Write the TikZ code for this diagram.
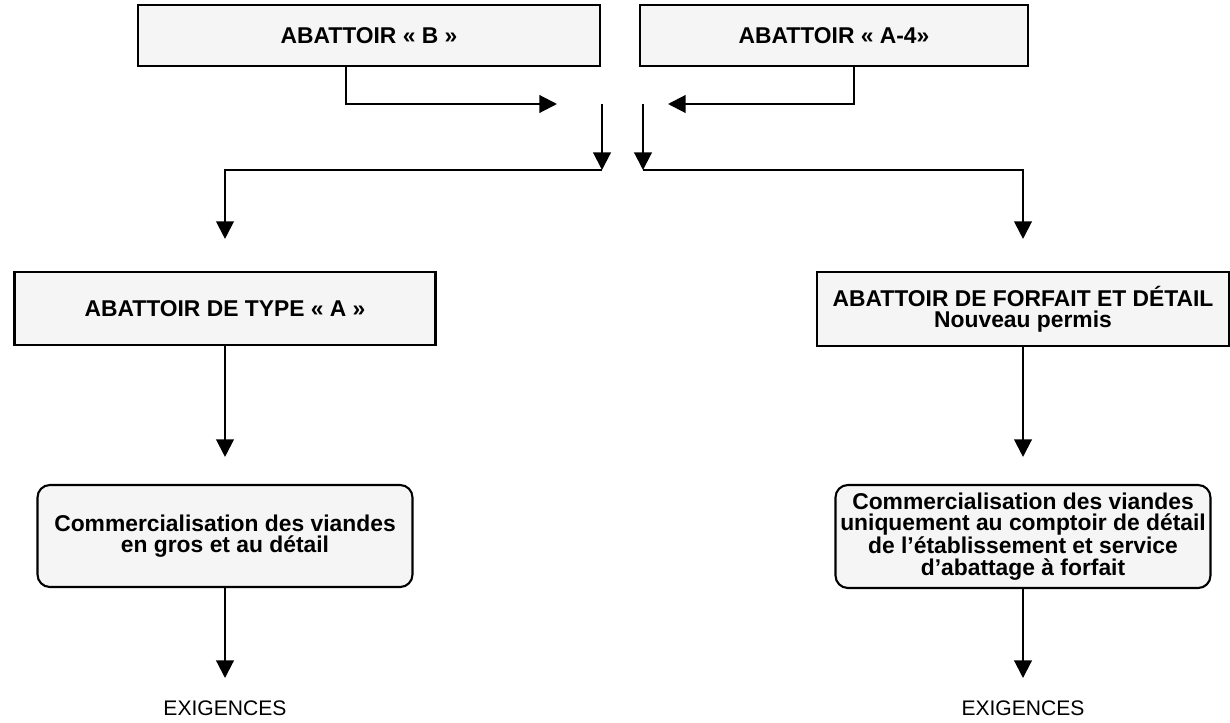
\documentclass[tikz,border=0pt]{standalone}
\usepackage{fontspec}
\setmainfont{Liberation Sans}
\usepackage{tikz}
\usetikzlibrary{arrows.meta, positioning}

\begin{document}
\begin{tikzpicture}[x=0.02cm, y=-0.02cm, line width=1.2pt,
    box/.style={rectangle, draw, fill=black!4, align=center, inner sep=2pt,
        font=\fontsize{13}{12}\selectfont\bfseries},
    roundbox/.style={box, rounded corners=7pt},
    exig/.style={inner sep=0pt, anchor=north, font=\fontsize{12}{14}\selectfont},
    arr/.style={-{Triangle[width=10pt,length=10pt]}}]
    \useasboundingbox (0,0) rectangle (1230,723);

    \node (AbattoirB) [box, minimum width=9.24cm, minimum height=1.22cm] at (369,35.5) {ABATTOIR « B »};
    \node (AbattoirA4) [box, minimum width=7.76cm, minimum height=1.22cm] at (834,35.5) {ABATTOIR « A-4»};

    \node (TypeA) [box, minimum width=8.42cm, minimum height=1.46cm] at (225,308.5) {ABATTOIR DE TYPE « A »};
    \node (Forfait) [box, minimum width=8.24cm, minimum height=1.48cm] at (1023,309) {ABATTOIR DE FORFAIT ET DÉTAIL\\Nouveau permis};

    \node (VenteGros) [roundbox, minimum width=7.5cm, minimum height=2.04cm] at (225,536) {Commercialisation des viandes\\en gros et au détail};
    \node (VenteDetail) [roundbox, minimum width=7.5cm, minimum height=2.06cm] at (1023,536.5) {Commercialisation des viandes\\uniquement au comptoir de détail\\de l’établissement et service\\d’abattage à forfait};

    \node (ExigGros) [exig] at (225,700) {EXIGENCES};
    \node (ExigDetail) [exig] at (1023,700) {EXIGENCES};

    % jonction des deux abattoirs
    \coordinate (TipB) at (557,104);
    \coordinate (TipA4) at (668,104);
    \coordinate (DropL) at (602,104);
    \coordinate (ForkL) at (602,170);
    \coordinate (DropR) at (643,104);
    \coordinate (ForkR) at (643,170);

    \draw[arr] ([xshift=-0.46cm]AbattoirB.south) |- (TipB);
    \draw[arr] ([xshift=0.4cm]AbattoirA4.south) |- (TipA4);
    \draw[arr] (DropL) -- (ForkL);
    \draw[arr] (DropR) -- (ForkR);

    \draw[arr, shorten >=0.64cm] (ForkL) -| (TypeA.north);
    \draw[arr, shorten >=0.64cm] (ForkR) -| (Forfait.north);

    \draw[arr, shorten >=0.54cm] (TypeA.south) -- (VenteGros.north);
    \draw[arr, shorten >=0.54cm] (Forfait.south) -- (VenteDetail.north);
    \draw[arr, shorten >=0.44cm] (VenteGros.south) -- (ExigGros.north);
    \draw[arr, shorten >=0.44cm] (VenteDetail.south) -- (ExigDetail.north);
\end{tikzpicture}
\end{document}
